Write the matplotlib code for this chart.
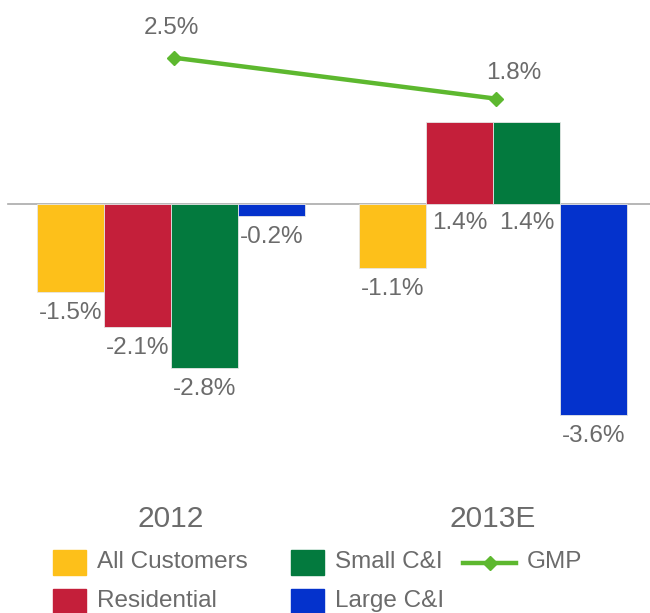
import matplotlib
matplotlib.use("Agg")
import matplotlib.pyplot as plt
from matplotlib.patches import Rectangle
from matplotlib.lines import Line2D
import numpy as np

plt.rcParams['font.family'] = ['Liberation Sans', 'DejaVu Sans']

categories = ["2012", "2013E"]
series_names = ["All Customers", "Residential", "Small C&I", "Large C&I"]
series_values = [
    [-1.5, -1.1],   # All Customers
    [-2.1, 1.4],    # Residential
    [-2.8, 1.4],    # Small C&I
    [-0.2, -3.6],   # Large C&I
]
series_labels = [
    ["-1.5%", "-1.1%"],
    ["-2.1%", "1.4%"],
    ["-2.8%", "1.4%"],
    ["-0.2%", "-3.6%"],
]
gmp_name = "GMP"
gmp_values = [2.5, 1.8]
gmp_labels = ["2.5%", "1.8%"]

colors = ["#FDC01A", "#C41F3A", "#037A3E", "#0432CC"]
gmp_color = "#5DB82F"
text_color = "#6B6B6B"

W, H = 650, 613
fig = plt.figure(figsize=(W / 100, H / 100), dpi=100)
ax = fig.add_axes([0, 0, 1, 1])

px_per_unit_x = 322.0
cx0 = 171.0
px_per_pct = 58.5
y0 = 204.0
ax.set_xlim(-cx0 / px_per_unit_x, (W - cx0) / px_per_unit_x)
ax.set_ylim(-(H - y0) / px_per_pct, y0 / px_per_pct)
ax.axis("off")

x = np.arange(len(categories))
step = 67.0 / px_per_unit_x
width = 66.5 / px_per_unit_x
offsets = (np.arange(len(series_names)) - 1.5) * step
label_off = 21.0 / px_per_pct
fs = 17.5

# baseline
ax.plot([(8 - cx0) / px_per_unit_x, (W - cx0) / px_per_unit_x], [0, 0],
        color="#AAAAAA", lw=1.2, zorder=1)

for i, (name, vals) in enumerate(zip(series_names, series_values)):
    ax.bar(x + offsets[i], vals, width=width, color=colors[i],
           edgecolor="#E6E6E6", linewidth=0.6, zorder=2)
    for j, v in enumerate(vals):
        ly = v - label_off if v < 0 else -19.0 / px_per_pct
        ax.text(x[j] + offsets[i], ly, series_labels[i][j], ha="center",
                va="center", fontsize=fs, color=text_color, zorder=3)

ax.plot(x + 0.01, gmp_values, color=gmp_color, lw=3.2, marker="D",
        markersize=7, zorder=4)
gmp_label_pos = [(-0.0, 30.0), (0.065, 26.0)]
for j, v in enumerate(gmp_values):
    ax.text(x[j] + gmp_label_pos[j][0], v + gmp_label_pos[j][1] / px_per_pct,
            gmp_labels[j], ha="center", va="center", fontsize=fs,
            color=text_color)

for j, c in enumerate(categories):
    ax.text(x[j], -(519 - y0) / px_per_pct, c, ha="center", va="center",
            fontsize=21.5, color=text_color)

# legend in pixel coordinates
lax = fig.add_axes([0, 0, 1, 1])
lax.set_xlim(0, W)
lax.set_ylim(H, 0)
lax.axis("off")
leg_items = [
    ("patch", colors[0], series_names[0], 53, 562),
    ("patch", colors[1], series_names[1], 53, 601),
    ("patch", colors[2], series_names[2], 291, 562),
    ("patch", colors[3], series_names[3], 291, 601),
]
for kind, col, name, lx, ly in leg_items:
    lax.add_patch(Rectangle((lx, ly - 12.5), 33, 25, color=col))
    lax.text(lx + 44, ly, name, ha="left", va="center", fontsize=fs,
             color=text_color)
lax.add_line(Line2D([463, 516], [563, 563], color=gmp_color, lw=3.2))
lax.add_line(Line2D([489.5], [563], color=gmp_color, marker="D",
                    markersize=7))
lax.text(527, 562, gmp_name, ha="left", va="center", fontsize=fs,
         color=text_color)

fig.savefig("out.png", dpi=100)
